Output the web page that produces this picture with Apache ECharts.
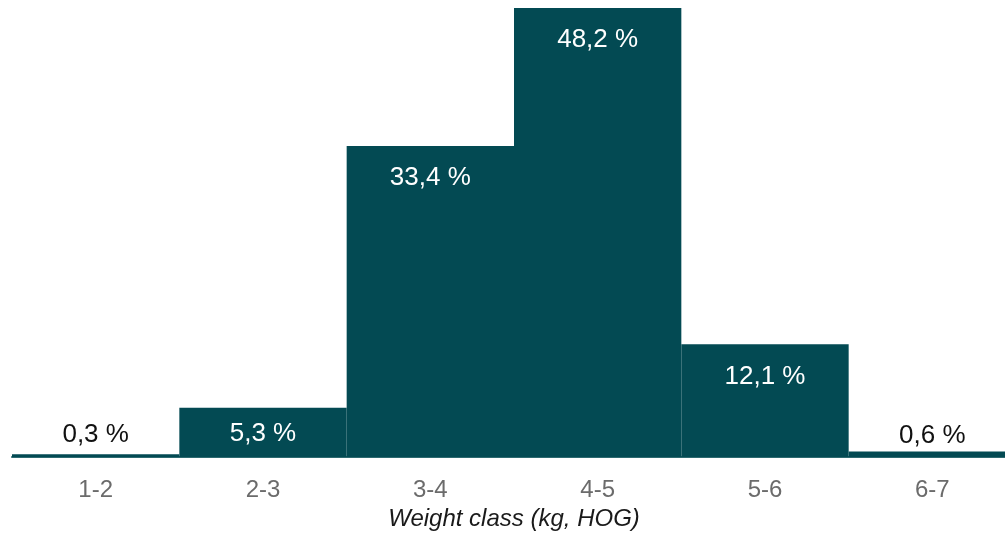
<!DOCTYPE html>
<html>
<head>
<meta charset="utf-8">
<script src="https://cdn.jsdelivr.net/npm/echarts@6/dist/echarts.min.js"></script>
<style>
  html, body { margin: 0; padding: 0; background: #fff; overflow: hidden; }
  /* the plot runs slightly past the right edge of the window */
  #chart { width: 1016px; height: 536px; }
</style>
</head>
<body>
<div id="chart"></div>
<script>
// Share of animals per carcass weight class (%)
const categories = ['1-2', '2-3', '3-4', '4-5', '5-6', '6-7'];
const shares = [0.3, 5.3, 33.4, 48.2, 12.1, 0.6];
const axisTitle = 'Weight class (kg, HOG)';

const BAR = '#034a53';
const FONT = 'Arial, "Liberation Sans", sans-serif';

const fmt = v => v.toFixed(1).replace('.', ',') + ' %';

// Tall bars carry their value inside near the top; short ones get it lower
// down, in dark text when it sits above the bar.
const data = shares.map(v => {
  let label;
  if (v >= 10) {
    label = { position: 'insideTop', distance: 19, color: '#fff' };
  } else if (v >= 3) {
    label = { position: 'insideTop', distance: 13, color: '#fff' };
  } else {
    label = { position: 'top', distance: v < 0.5 ? 6 : 3, color: '#111' };
  }
  return { value: v, label };
});

const chart = echarts.init(document.getElementById('chart'), null, { renderer: 'canvas' });
chart.setOption({
  animation: false,
  grid: { left: 12, right: 0, top: 8, bottom: 78, containLabel: false },
  xAxis: {
    type: 'category',
    data: categories,
    name: axisTitle,
    nameLocation: 'middle',
    nameGap: 46,
    nameTextStyle: { fontFamily: FONT, fontStyle: 'italic', fontSize: 24, color: '#1a1a1a' },
    axisTick: { show: false },
    axisLine: { show: true, lineStyle: { color: '#2d6a70', width: 2 } },
    axisLabel: { margin: 21, fontFamily: FONT, fontSize: 24, color: '#6b6b6b' }
  },
  yAxis: {
    type: 'value',
    min: 0,
    max: 'dataMax',
    show: false,
    splitLine: { show: false }
  },
  series: [{
    type: 'bar',
    data,
    barWidth: '100%',
    barCategoryGap: 0,
    itemStyle: { color: BAR },
    label: {
      show: true,
      fontFamily: FONT,
      fontSize: 26,
      formatter: p => fmt(p.value)
    }
  }]
});
</script>
</body>
</html>
